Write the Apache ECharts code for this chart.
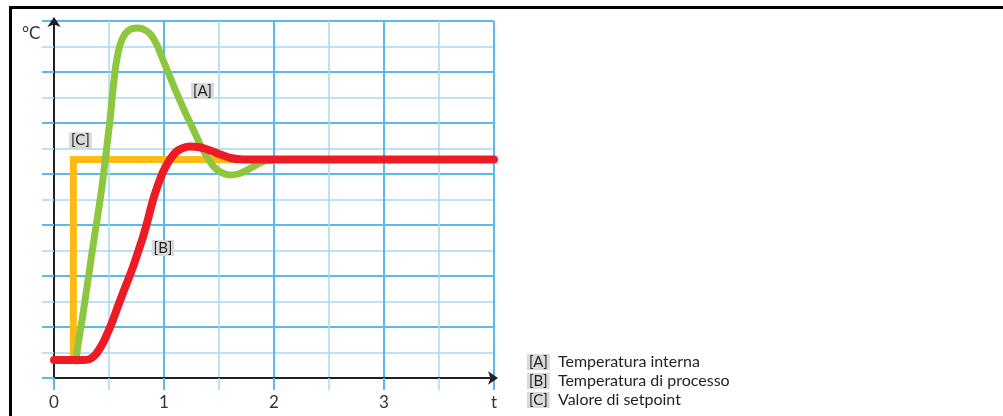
<!DOCTYPE html>
<html>
<head>
<meta charset="utf-8">
<script src="https://cdn.jsdelivr.net/npm/echarts@6/dist/echarts.min.js"></script>
<style>
html,body{margin:0;padding:0;background:#fff;}
#chart{width:1003px;height:416px;}
</style>
</head>
<body>
<div id="chart"></div>
<script>
// ---- data ----
const xTickLabels = ['0', '1', '2', '3', 't'];
const yAxisName = '°C';
const seriesNames = ['Valore di setpoint', 'Temperatura interna', 'Temperatura di processo'];
const seriesTags = ['[C]', '[A]', '[B]'];
const legendOrder = ['Temperatura interna', 'Temperatura di processo', 'Valore di setpoint'];

// [C] setpoint
const setpointData = [[0.176, 0.35], [0.176, 4.284], [4, 4.284]];
// [A] internal temperature
const internalData = [
  [0.2, 0.333], [0.218, 0.647], [0.255, 1.137], [0.3, 1.784], [0.345, 2.451], [0.391, 3.098],
  [0.436, 3.745], [0.473, 4.412], [0.509, 5.059], [0.536, 5.647], [0.564, 6.157], [0.6, 6.529],
  [0.645, 6.745], [0.7, 6.843], [0.764, 6.863], [0.827, 6.824], [0.882, 6.725], [0.936, 6.529],
  [0.991, 6.235], [1.055, 5.902], [1.118, 5.569], [1.191, 5.216], [1.264, 4.882], [1.327, 4.588],
  [1.391, 4.333], [1.455, 4.137], [1.527, 4.02], [1.6, 3.98], [1.673, 4.0], [1.755, 4.078],
  [1.836, 4.176], [1.918, 4.255], [2.009, 4.284]
];
// [B] process temperature
const processData = [
  [0, 0.353], [0.145, 0.353], [0.273, 0.353], [0.327, 0.373], [0.382, 0.471], [0.445, 0.686],
  [0.491, 0.902], [0.536, 1.137], [0.582, 1.412], [0.627, 1.667], [0.673, 1.922], [0.718, 2.176],
  [0.764, 2.471], [0.809, 2.765], [0.855, 3.118], [0.9, 3.49], [0.945, 3.784], [0.991, 4.039],
  [1.045, 4.255], [1.109, 4.431], [1.173, 4.51], [1.236, 4.539], [1.309, 4.529], [1.382, 4.49],
  [1.455, 4.431], [1.527, 4.373], [1.609, 4.314], [1.691, 4.288], [1.782, 4.284], [1.964, 4.284],
  [2.5, 4.284], [3, 4.284], [3.5, 4.284], [4, 4.284]
];
// annotation anchor positions (data units)
const tagPosC = [0.24, 4.66];
const tagPosA = [1.35, 5.63];
const tagPosB = [0.99, 2.55];

// ---- styles ----
const FONT = 'Lato';
const MAJOR = '#5cb9e8';
const MINOR = '#a8d9f2';
const DARK = '#231f20';
const TAGBG = '#d9d9d9';

const tagLabel = (txt) => ({
  show: true, position: 'inside', formatter: txt,
  fontFamily: FONT, fontSize: 15, color: '#222',
  backgroundColor: TAGBG, padding: [1, 2, 0, 2]
});

const chart = echarts.init(document.getElementById('chart'));
const tagMap = {};
seriesNames.forEach((n, i) => tagMap[n] = seriesTags[i]);

chart.setOption({
  animation: false,
  backgroundColor: '#fff',
  grid: { left: 54, right: 509, top: 21, bottom: 38 },
  xAxis: {
    type: 'value', min: 0, max: 4, interval: 1,
    axisLine: { show: true, lineStyle: { color: DARK, width: 2 }, symbol: ['none', 'arrow'], symbolSize: [10, 10], symbolOffset: [0, 4] },
    axisTick: { show: true, length: 12, lineStyle: { color: MAJOR, width: 2 } },
    minorTick: { show: true, splitNumber: 2, length: 12, lineStyle: { color: MINOR, width: 1.5 } },
    splitLine: { show: true, lineStyle: { color: MAJOR, width: 2 } },
    minorSplitLine: { show: true, lineStyle: { color: MINOR, width: 1.5 } },
    axisLabel: { margin: 16, fontFamily: FONT, fontSize: 17, color: '#333', formatter: (v) => xTickLabels[Math.round(v)] }
  },
  yAxis: {
    type: 'value', min: 0, max: 7, interval: 1,
    axisLine: { show: true, onZero: false, lineStyle: { color: DARK, width: 2 }, symbol: ['none', 'arrow'], symbolSize: [10, 10], symbolOffset: [0, 4] },
    axisTick: { show: true, length: 12, lineStyle: { color: MAJOR, width: 2 } },
    minorTick: { show: true, splitNumber: 2, length: 12, lineStyle: { color: MINOR, width: 1.5 } },
    splitLine: { show: true, lineStyle: { color: MAJOR, width: 2 } },
    minorSplitLine: { show: true, lineStyle: { color: MINOR, width: 1.5 } },
    axisLabel: { show: false }
  },
  legend: {
    orient: 'vertical', left: 517, top: 349,
    data: legendOrder, icon: 'rect', itemWidth: 0, itemHeight: 0, itemGap: 3,
    selectedMode: false,
    formatter: (name) => '{t|' + tagMap[name] + '}  ' + name,
    textStyle: {
      fontFamily: FONT, fontSize: 16, color: DARK,
      rich: { t: { fontFamily: FONT, fontSize: 15, color: '#222', backgroundColor: TAGBG, padding: [1, 2, 0, 2] } }
    }
  },
  graphic: [
    { type: 'rect', shape: { x: 9, y: 6, width: 994, height: 3 }, style: { fill: '#000' } },
    { type: 'rect', shape: { x: 9, y: 6, width: 3, height: 410 }, style: { fill: '#000' } },
    { type: 'text', left: 22, top: 25, style: { text: yAxisName, fontFamily: FONT, fontSize: 17, fill: '#333' } }
  ],
  series: [
    {
      name: seriesNames[0], type: 'line', data: setpointData, symbol: 'none',
      lineStyle: { color: '#fdbb13', width: 7, join: 'miter', cap: 'butt' },
      itemStyle: { color: '#fdbb13' },
      markPoint: { symbol: 'circle', symbolSize: 0, data: [{ coord: tagPosC }], label: tagLabel(seriesTags[0]) }
    },
    {
      name: seriesNames[1], type: 'line', data: internalData, symbol: 'none',
      smooth: 0.3,
      lineStyle: { color: '#8dc63f', width: 7, cap: 'round', join: 'round' },
      itemStyle: { color: '#8dc63f' },
      markPoint: { symbol: 'circle', symbolSize: 0, data: [{ coord: tagPosA }], label: tagLabel(seriesTags[1]) }
    },
    {
      name: seriesNames[2], type: 'line', data: processData, symbol: 'none',
      smooth: 0.3,
      lineStyle: { color: '#ed1c24', width: 8, cap: 'round', join: 'round' },
      itemStyle: { color: '#ed1c24' },
      markPoint: { symbol: 'circle', symbolSize: 0, data: [{ coord: tagPosB }], label: tagLabel(seriesTags[2]) }
    }
  ]
});
</script>
</body>
</html>
